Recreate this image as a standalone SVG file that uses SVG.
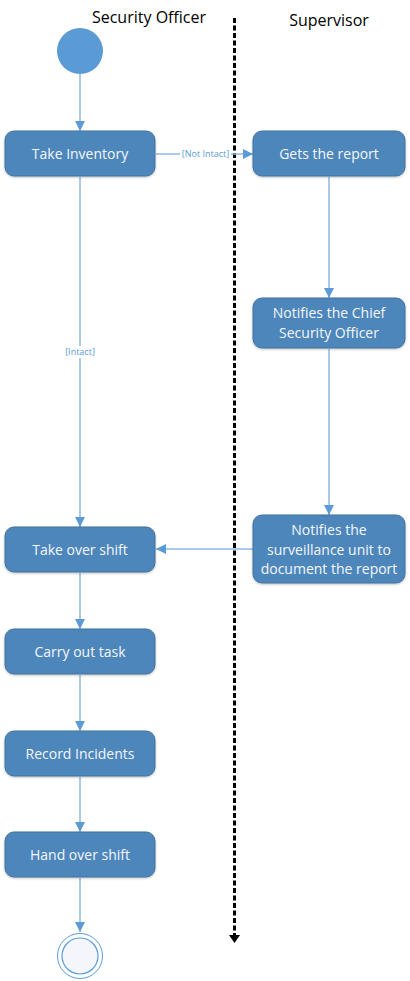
<svg xmlns="http://www.w3.org/2000/svg" width="410" height="981" viewBox="0 0 410 981">
<defs>
<marker id="arr" viewBox="0 0 10 10" refX="10" refY="5" markerWidth="10" markerHeight="10" markerUnits="userSpaceOnUse" orient="auto">
<path d="M0,0 L10,5 L0,10 Z" fill="#5B9BD5"/>
</marker>
<filter id="sh" x="-10%" y="-10%" width="120%" height="130%">
<feDropShadow dx="0" dy="1" stdDeviation="1" flood-color="#000" flood-opacity="0.25"/>
</filter>
</defs>
<style>
.node rect{fill:#4E86BB;stroke:#41719C;stroke-width:1;filter:url(#sh)}
.node text{fill:#F4F7FB;font-family:"Open Sans","Liberation Sans",sans-serif;font-size:14px;text-anchor:middle}
.lane{font-family:"Open Sans","Liberation Sans",sans-serif;font-size:16px;fill:#000;text-anchor:middle}
.conn line{stroke:#8FB8E3;stroke-width:1.5;fill:none;marker-end:url(#arr)}
.lbl{font-family:"Open Sans","Liberation Sans",sans-serif;font-size:9px;fill:#5B9BD5;text-anchor:middle}
</style>
<rect width="410" height="981" fill="#fff"/>
<text class="lane" x="149" y="23">Security Officer</text>
<text class="lane" x="329" y="26">Supervisor</text>
<line x1="234.5" y1="18" x2="234.5" y2="935" stroke="#000" stroke-width="3" stroke-dasharray="5 2.5"/>
<path d="M229,935 L240,935 L234.5,943 Z" fill="#000"/>
<g class="conn">
<line x1="80" y1="74" x2="80" y2="131"/>
<line x1="156" y1="154" x2="253" y2="154"/>
<line x1="80" y1="177" x2="80" y2="527"/>
<line x1="329" y1="177" x2="329" y2="298"/>
<line x1="329" y1="349" x2="329" y2="515"/>
<line x1="253" y1="549" x2="156" y2="549"/>
<line x1="80" y1="573" x2="80" y2="629"/>
<line x1="80" y1="675" x2="80" y2="731"/>
<line x1="80" y1="777" x2="80" y2="832"/>
<line x1="80" y1="878" x2="80" y2="932"/>
</g>
<rect x="180" y="148" width="51" height="12" fill="#fff"/>
<text class="lbl" x="205.5" y="157">[Not Intact]</text>
<rect x="62" y="346" width="36" height="12" fill="#fff"/>
<text class="lbl" x="80" y="355">[Intact]</text>
<g id="start"><circle cx="80" cy="51" r="23" fill="#5B9BD5"/></g>
<g id="take-inventory" class="node"><rect x="5" y="131" width="150" height="45" rx="9"/><text x="80" y="158.5">Take Inventory</text></g>
<g id="gets-report" class="node"><rect x="253" y="131" width="152" height="45" rx="9"/><text x="329" y="158.5">Gets the report</text></g>
<g id="notifies-chief" class="node"><rect x="253" y="298" width="152" height="50" rx="9"/><text x="329" y="318">Notifies the Chief</text><text x="329" y="338">Security Officer</text></g>
<g id="notifies-surveillance" class="node"><rect x="253" y="515" width="152" height="68" rx="9"/><text x="329" y="535">Notifies the</text><text x="329" y="554.5">surveillance unit to</text><text x="329" y="574">document the report</text></g>
<g id="take-over-shift" class="node"><rect x="5" y="527" width="150" height="45" rx="9"/><text x="80" y="554.5">Take over shift</text></g>
<g id="carry-out-task" class="node"><rect x="5" y="629" width="150" height="45" rx="9"/><text x="80" y="656.5">Carry out task</text></g>
<g id="record-incidents" class="node"><rect x="5" y="731" width="150" height="45" rx="9"/><text x="80" y="758.5">Record Incidents</text></g>
<g id="hand-over-shift" class="node"><rect x="5" y="832" width="150" height="45" rx="9"/><text x="80" y="859.5">Hand over shift</text></g>
<g id="end"><circle cx="80" cy="956" r="22.5" fill="#fff" stroke="#5B9BD5" stroke-width="1"/><circle cx="80" cy="956" r="18" fill="#F4F6FB" stroke="#5B9BD5" stroke-width="1.2"/></g>
</svg>
